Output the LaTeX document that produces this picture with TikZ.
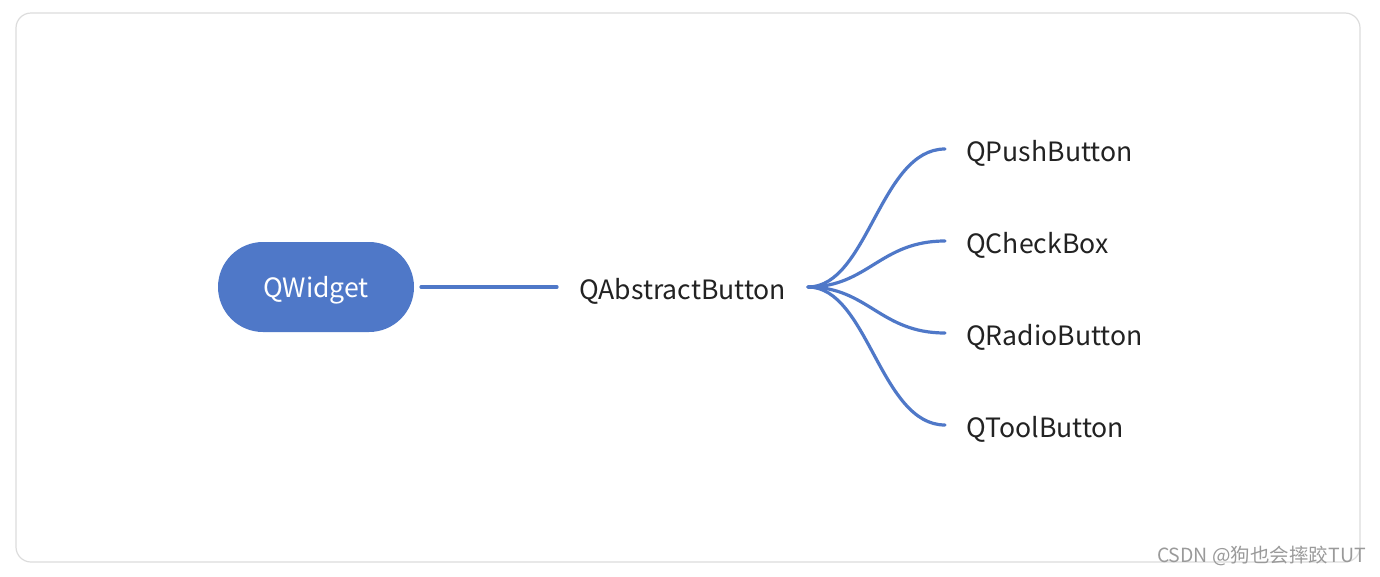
\documentclass[tikz,border=0pt]{standalone}
\usepackage{fontspec}
\usetikzlibrary{calc}
\setmainfont{Noto Sans CJK SC}
\definecolor{mblue}{HTML}{4F78C8}
\definecolor{txt}{HTML}{222222}
\definecolor{frame}{HTML}{DCDCDC}
\definecolor{wm}{HTML}{9A9A9A}
\tikzset{
  leaf/.style={anchor=west, text=txt, font=\fontsize{26.6}{30}\selectfont, inner sep=0pt},
  branch/.style={draw=mblue, line width=3.2pt, line cap=round},
}
\begin{document}
\begin{tikzpicture}[x=1pt,y=-1pt]
\useasboundingbox (0,0) rectangle (1380,576);
\draw[frame, line width=1.2pt, fill=white, rounded corners=15pt] (16,13) rectangle (1360,562);
\node[fill=mblue, rounded corners=45pt, minimum width=196pt, minimum height=90pt, inner sep=0pt] (qw) at (316,287) {};
\node[text=white, font=\fontsize{26.6}{30}\selectfont, inner sep=0pt] (qwt) at (316,290) {QWidget};
\node[anchor=west, text=txt, font=\fontsize{26.6}{30}\selectfont, inner sep=0pt] (qa) at (579,291) {QAbstractButton};
\coordinate (s1) at (421,287);
\coordinate (s2) at (557,287);
\draw[branch] (s1) -- (s2);
\coordinate (o) at (808,287);
\node[leaf] (l1) at (966,153) {QPushButton};
\node[leaf] (l2) at (966,245) {QCheckBox};
\node[leaf] (l3) at (966,337) {QRadioButton};
\node[leaf] (l4) at (966,429) {QToolButton};
\coordinate (e1) at (945,149);
\coordinate (e2) at (945,241);
\coordinate (e3) at (945,333);
\coordinate (e4) at (945,425);
\foreach \e in {e1,e2,e3,e4}{
  \draw[branch] (o) .. controls ($(o)+(60,0)$) and ($(\e)+(-65,0)$) .. (\e);
}
\node[anchor=east, text=wm, font=\fontsize{19.5}{22}\selectfont, inner sep=0pt] (wm) at (1366,556) {CSDN @狗也会摔跤TUT};
\end{tikzpicture}
\end{document}
